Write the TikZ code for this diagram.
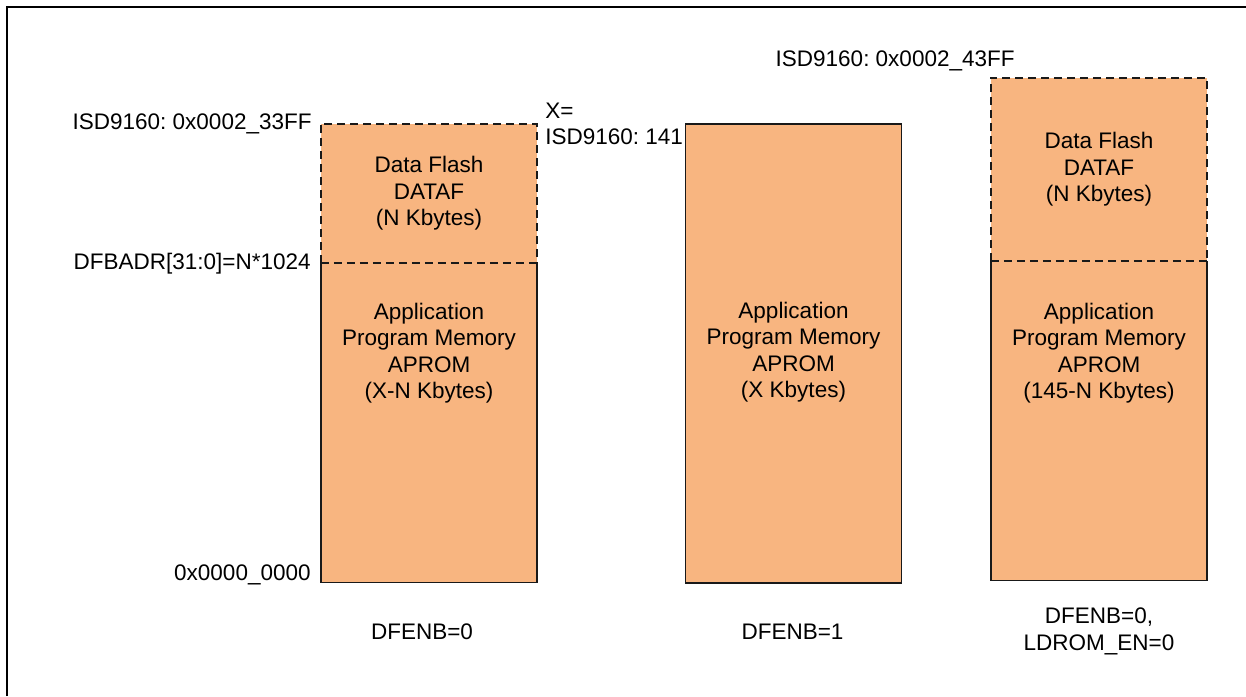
\documentclass[tikz,border=0pt]{standalone}
\usepackage{fontspec}
\setmainfont{Liberation Sans}
\usetikzlibrary{positioning}

\definecolor{memfill}{RGB}{248,181,128}
\frenchspacing

\begin{document}
\begin{tikzpicture}[
    x=1pt, y=-1pt,
    font=\fontsize{22.5}{26.5}\selectfont,
    % Node styles
    region/.style={
        rectangle, fill=memfill, draw=none,
        minimum width=216pt, inner sep=0pt,
        align=center
    },
    memtext/.style={align=center, inner sep=0pt},
    addr/.style={inner sep=0pt},
    cond/.style={align=center, inner sep=0pt},
    solidedge/.style={line width=1.6pt, draw=black!90},
    dashedge/.style={line width=1.5pt, draw=black!90, dash pattern=on 8pt off 5pt},
]
\useasboundingbox (0,0) rectangle (1246,696);

%% ---- Frame ----
\draw[line width=2pt] (6.5,696) |- (1246,6.5);

%% ---- COLUMN 1: DFENB=0 ----
\node[region, minimum height=139pt] (df1) at (429,193.5) {Data Flash\\DATAF\\(N Kbytes)};
\node[region, minimum height=319pt, below=0pt of df1] (ap1) {};
\node[memtext] (ap1txt) at ([yshift=-90pt]ap1.north) {Application\\Program Memory\\APROM\\(X-N Kbytes)};
\draw[dashedge] (df1.south west) -- (df1.north west) -- (df1.north east) -- (df1.south east);
\draw[dashedge] (df1.south west) -- (df1.south east);
\draw[solidedge] (ap1.north west) -- (ap1.south west) -- (ap1.south east) -- (ap1.north east);

\node[addr, anchor=east] (top1) at ([xshift=-9pt]df1.north west) {ISD9160: 0x0002\_33FF};
\node[addr, anchor=east] (dfbadr) at ([xshift=-10pt]df1.south west) {DFBADR[31:0]=N*1024};
\node[addr, anchor=east] (bot1) at ([xshift=-10pt, yshift=8pt]ap1.south west) {0x0000\_0000};
\node[addr, anchor=west, align=left] (xsize) at ([xshift=8pt]df1.north east) {X=\\ISD9160: 141};
\node[cond] (cond1) at ([xshift=-7pt, yshift=-49pt]ap1.south) {DFENB=0};

%% ---- COLUMN 2: DFENB=1 ----
\node[region, minimum height=459pt, solidedge] (ap2) at (793.5,353.5) {};
\node[memtext] (ap2txt) at ([yshift=-229pt]ap2.north) {Application\\Program Memory\\APROM\\(X Kbytes)};
\node[cond] (cond2) at ([xshift=-1pt, yshift=-48pt]ap2.south) {DFENB=1};

%% ---- COLUMN 3: DFENB=0, LDROM_EN=0 ----
\node[region, minimum height=183pt] (df3) at (1099,169.5) {Data Flash\\DATAF\\(N Kbytes)};
\node[region, minimum height=319pt, below=0pt of df3] (ap3) {};
\node[memtext] (ap3txt) at ([yshift=-92pt]ap3.north) {Application\\Program Memory\\APROM\\(145-N Kbytes)};
\draw[dashedge] (df3.south west) -- (df3.north west) -- (df3.north east) -- (df3.south east);
\draw[dashedge] (df3.south west) -- (df3.south east);
\draw[solidedge] (ap3.north west) -- (ap3.south west) -- (ap3.south east) -- (ap3.north east);

\node[addr, anchor=east] (top3) at ([xshift=24pt, yshift=17pt]df3.north west) {ISD9160: 0x0002\_43FF};
\node[cond] (cond3) at ([yshift=-51pt]ap3.south) {DFENB=0,\\LDROM\_EN=0};

\end{tikzpicture}
\end{document}
